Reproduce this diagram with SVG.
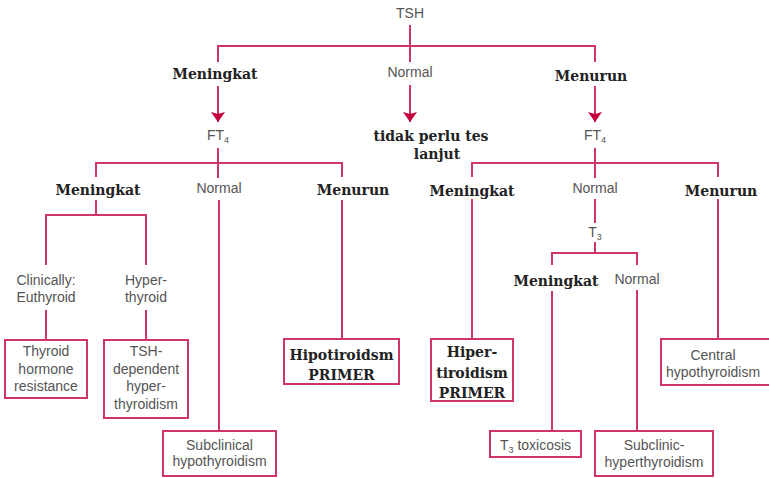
<svg xmlns="http://www.w3.org/2000/svg" width="769" height="478" viewBox="0 0 769 478">
<defs>
<style>
.ln{fill:none;stroke:#d03566;stroke-width:2}
.bx{fill:#fff;stroke:#d03566;stroke-width:2}
.s{font-family:"Liberation Sans",Arial,sans-serif;font-size:14px;fill:#555;text-anchor:middle}
.b{font-family:"DejaVu Serif","Liberation Serif",serif;font-size:14px;font-weight:bold;fill:#222;text-anchor:middle}
.sub{font-size:9px}
</style>
<marker id="ah" viewBox="0 0 10 14" refX="10" refY="7" markerWidth="10" markerHeight="14" orient="auto" markerUnits="userSpaceOnUse">
<path d="M0,0 L10,7 L0,14 L2,7 z" fill="#c3003b"/>
</marker>
</defs>
<rect width="769" height="478" fill="#fff"/>
<g id="connectors">
<path class="ln" d="M410,25 V62"/>
<path class="ln" d="M218,62 V46 H595 V62"/>
<path class="ln" d="M218,86 V122" stroke="#c3003b" marker-end="url(#ah)"/>
<path class="ln" d="M410,85 V122" marker-end="url(#ah)"/>
<path class="ln" d="M595,86 V122" marker-end="url(#ah)"/>
<path class="ln" d="M218,148 V178"/>
<path class="ln" d="M96,177 V163 H342 V177"/>
<path class="ln" d="M595,148 V178"/>
<path class="ln" d="M472,177 V163 H718 V177"/>
<path class="ln" d="M96,200 V215"/>
<path class="ln" d="M46,265 V215 H146 V265"/>
<path class="ln" d="M46,310 V340"/>
<path class="ln" d="M146,310 V340"/>
<path class="ln" d="M219,200 V431"/>
<path class="ln" d="M342,200 V339"/>
<path class="ln" d="M472,199 V339"/>
<path class="ln" d="M595,199 V223"/>
<path class="ln" d="M595,242 V253"/>
<path class="ln" d="M552,265 V253 H637 V265"/>
<path class="ln" d="M552,291 V431"/>
<path class="ln" d="M637,290 V431"/>
<path class="ln" d="M718,199 V339"/>
</g>
<g id="tsh"><text class="s" x="410" y="18" font-size="13">TSH</text></g>
<g id="tsh-up"><text class="b" x="215" y="79">Meningkat</text></g>
<g id="tsh-normal"><text class="s" x="410" y="77">Normal</text></g>
<g id="tsh-down"><text class="b" x="591" y="81">Menurun</text></g>
<g id="ft4-left"><text class="s" x="218" y="140">FT<tspan class="sub" dy="3">4</tspan></text></g>
<g id="no-test"><text class="b" x="431" y="141">tidak perlu tes</text><text class="b" x="437" y="159">lanjut</text></g>
<g id="ft4-right"><text class="s" x="595" y="140">FT<tspan class="sub" dy="3">4</tspan></text></g>
<g id="l-up"><text class="b" x="98" y="195">Meningkat</text></g>
<g id="l-normal"><text class="s" x="219" y="193">Normal</text></g>
<g id="l-down"><text class="b" x="353" y="195">Menurun</text></g>
<g id="euthyroid"><text class="s" x="46" y="285">Clinically:</text><text class="s" x="46" y="302">Euthyroid</text></g>
<g id="hyperthyroid"><text class="s" x="146" y="285">Hyper-</text><text class="s" x="146" y="302">thyroid</text></g>
<g id="thr"><rect class="bx" x="5" y="340" width="82" height="58"/><text class="s" x="46" y="356">Thyroid</text><text class="s" x="46" y="374">hormone</text><text class="s" x="46" y="391">resistance</text></g>
<g id="tsh-dep"><rect class="bx" x="104" y="340" width="84" height="78"/><text class="s" x="146" y="356">TSH-</text><text class="s" x="146" y="374">dependent</text><text class="s" x="146" y="391">hyper-</text><text class="s" x="146" y="409">thyroidism</text></g>
<g id="subclin-hypo"><rect class="bx" x="163" y="431" width="113" height="45"/><text class="s" x="219.5" y="450">Subclinical</text><text class="s" x="219.5" y="466">hypothyroidism</text></g>
<g id="hipo-primer"><rect class="bx" x="284" y="339" width="115" height="45"/><text class="b" x="341.5" y="360">Hipotiroidsm</text><text class="b" x="341.5" y="380">PRIMER</text></g>
<g id="r-up"><text class="b" x="472" y="196">Meningkat</text></g>
<g id="r-normal"><text class="s" x="595" y="193">Normal</text></g>
<g id="r-down"><text class="b" x="721" y="196">Menurun</text></g>
<g id="hiper-primer"><rect class="bx" x="431" y="339" width="82" height="62"/><text class="b" x="472" y="357">Hiper-</text><text class="b" x="472" y="378">tiroidism</text><text class="b" x="472" y="398">PRIMER</text></g>
<g id="t3"><text class="s" x="595" y="237">T<tspan class="sub" dy="3">3</tspan></text></g>
<g id="t3-up"><text class="b" x="556" y="286">Meningkat</text></g>
<g id="t3-normal"><text class="s" x="637" y="284">Normal</text></g>
<g id="t3-tox"><rect class="bx" x="490" y="431" width="91" height="26"/><text class="s" x="535.5" y="450">T<tspan class="sub" dy="3">3</tspan><tspan dy="-3"> toxicosis</tspan></text></g>
<g id="subclin-hyper"><rect class="bx" x="595" y="431" width="118" height="45"/><text class="s" x="654" y="450">Subclinic-</text><text class="s" x="654" y="467">hyperthyroidism</text></g>
<g id="central"><rect class="bx" x="661" y="339" width="112" height="46"/><text class="s" x="713" y="360">Central</text><text class="s" x="713" y="377">hypothyroidism</text></g>
</svg>
